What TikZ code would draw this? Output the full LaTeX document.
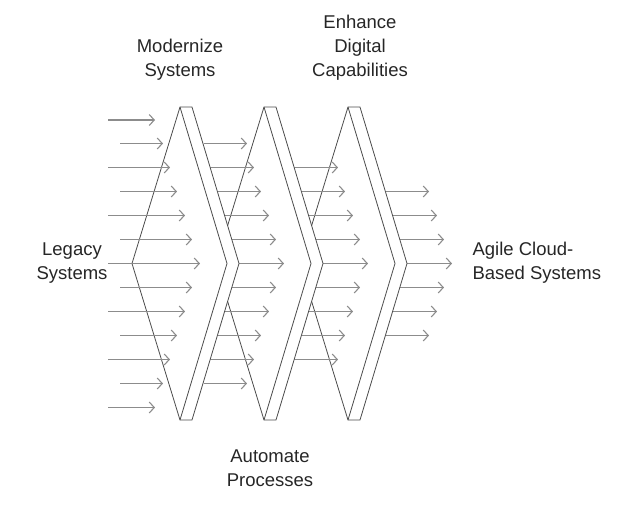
\documentclass[tikz,border=0pt]{standalone}
\usepackage{fontspec}
\setmainfont{Liberation Sans}
\usetikzlibrary{arrows.meta}
\begin{document}
\begin{tikzpicture}[x=1pt,y=-1pt,
  arr/.style={draw=black!45,line width=1.1pt,-{Straight Barb[length=5pt,width=11pt]}},
  chev/.style={draw=black!70,line width=0.8pt,fill=white,line join=miter},
  lbl/.style={font=\fontsize{18.5}{24}\selectfont,text=black!85,align=center}]
\useasboundingbox (0,0) rectangle (624,504);
\def\ys{{120,143.5,167.5,191.5,215.5,239.5,263.5,287.5,311.5,335.5,359.5,383.5,407.5}}
\def\xe{{155,163,170,177,185,192,200,192,185,177,170,163,155}}
\def\xs{{108,120,108,120,108,120,108,120,108,120,108,120,108}}
\newcommand\arrowcol[3]{% shift, first row, last row
  \foreach \i in {#2,...,#3}{
    \pgfmathsetmacro\yy{\ys[\i]}\pgfmathsetmacro\xa{\xs[\i]+#1}\pgfmathsetmacro\xb{\xe[\i]+#1}
    \coordinate (s#1-\i) at (\xa,\yy); \coordinate (e#1-\i) at (\xb,\yy);
    \draw[arr] (s#1-\i) -- (e#1-\i);}}
\newcommand\chevron[2]{% name, shift
  \begin{scope}[xshift=#2]
  \path[chev] (132,263.5) -- (180,107) -- (192,107) -- (239,263.5) -- (192,420) -- (180,420) -- cycle;
  \draw[draw=black!70,line width=0.8pt] (180,107) -- (227,263.5) -- (180,420);
  \coordinate (#1) at (185,263.5);
  \end{scope}}
\arrowcol{252}{3}{9}
\chevron{c3}{168}
\arrowcol{168}{2}{10}
\chevron{c2}{84}
\arrowcol{84}{1}{11}
\chevron{c1}{0}
\arrowcol{0}{0}{12}
\node[lbl] (m) at (180,60) {Modernize\\Systems};
\node[lbl] (e) at (360,48) {Enhance\\Digital\\Capabilities};
\node[lbl] (l) at (72,263) {Legacy\\Systems};
\node[lbl,align=left,anchor=west] (a) at (469,263) {Agile Cloud-\\Based Systems};
\node[lbl] (p) at (270,468) {Automate\\Processes};
\end{tikzpicture}
\end{document}
